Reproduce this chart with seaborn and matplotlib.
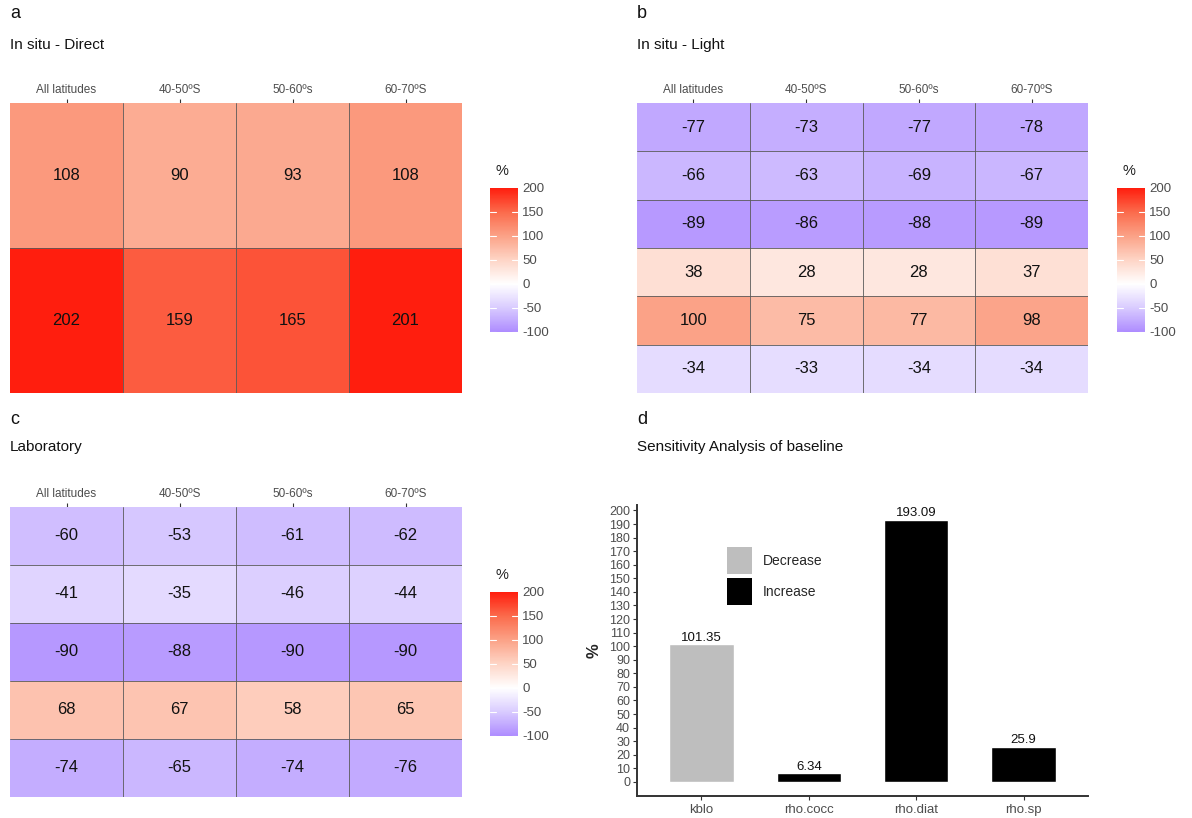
import numpy as np
import pandas as pd
import matplotlib
matplotlib.use("Agg")
import matplotlib.pyplot as plt
import seaborn as sns
from matplotlib.colors import LinearSegmentedColormap
from matplotlib.patches import Patch

sns.set_theme(style="white")
plt.rcParams['font.family'] = ['Liberation Sans', 'DejaVu Sans']
plt.rcParams['axes.unicode_minus'] = False

# ---------------- data ----------------
lat_labels = ['All latitudes', '40-50ºS', '50-60ºs', '60-70ºS']

direct_vals = [[108, 90, 93, 108],
               [202, 159, 165, 201]]

light_vals = [[-77, -73, -77, -78],
              [-66, -63, -69, -67],
              [-89, -86, -88, -89],
              [38, 28, 28, 37],
              [100, 75, 77, 98],
              [-34, -33, -34, -34]]

lab_vals = [[-60, -53, -61, -62],
            [-41, -35, -46, -44],
            [-90, -88, -90, -90],
            [68, 67, 58, 65],
            [-74, -65, -74, -76]]

sens_params = ['kblo', 'rho.cocc', 'rho.diat', 'rho.sp']
sens_values = [101.35, 6.34, 193.09, 25.9]
sens_direction = ['Decrease', 'Increase', 'Increase', 'Increase']
sens_labels = ['101.35', '6.34', '193.09', '25.9']

cbar_ticks = [-100, -50, 0, 50, 100, 150, 200]

# ---------------- style ----------------
W, H = 1192, 818
fig = plt.figure(figsize=(W / 100, H / 100), dpi=100)

def box(l, t, r, b):
    return [l / W, 1 - b / H, (r - l) / W, (b - t) / H]

vmin, vmax = -100, 200
stops = [(-100, '#AE8CFF'), (-50, '#D9CBFF'), (0, '#FFFFFF'),
         (50, '#FED5C6'), (100, '#FBA287'), (150, '#FB6B4C'), (200, '#FF1E0E')]
cmap = LinearSegmentedColormap.from_list(
    'g2', [((v - vmin) / (vmax - vmin), c) for v, c in stops])

grey_txt = '#4D4D4D'

def heat(vals, rect, cbar_rect):
    ax = fig.add_axes(box(*rect))
    cax = fig.add_axes(box(*cbar_rect))
    df = pd.DataFrame(vals, columns=lat_labels)
    sns.heatmap(df, ax=ax, cmap=cmap, vmin=vmin, vmax=vmax, annot=True, fmt='d',
                annot_kws={'fontsize': 12, 'color': '#111111'},
                linewidths=0, cbar_ax=cax, cbar_kws={'ticks': cbar_ticks})
    cb = ax.collections[0].colorbar
    cb.outline.set_visible(False)
    nr, nc = df.shape
    for i in range(1, nr):
        ax.axhline(i, color='#5a5a5a', lw=0.6)
    for j in range(1, nc):
        ax.axvline(j, color='#5a5a5a', lw=0.6)
    ax.xaxis.tick_top()
    ax.set_xticklabels(lat_labels, rotation=0, fontsize=8.5, color=grey_txt)
    ax.set_yticks([])
    ax.set_xlabel('')
    ax.set_ylabel('')
    ax.tick_params(axis='x', top=True, bottom=False, length=3, width=0.8,
                   color='#333333', pad=2)
    for s in ax.spines.values():
        s.set_visible(False)
    cax.tick_params(labelsize=9.5, labelcolor=grey_txt, length=0, pad=3)
    for t in cbar_ticks[:-1]:
        cax.plot([0, 0.2], [t, t], color='white', lw=0.8, transform=cax.get_yaxis_transform())
        cax.plot([0.8, 1.0], [t, t], color='white', lw=0.8, transform=cax.get_yaxis_transform())
    cax.text(0.2, 1.07, '%', transform=cax.transAxes, fontsize=10.5, color='#222222',
             ha='left', va='bottom')
    for s in cax.spines.values():
        s.set_visible(False)
    return ax

heat(direct_vals, (10, 103, 462, 393), (490, 188, 518, 332))
heat(light_vals, (637, 103, 1088, 393), (1117, 188, 1145, 332))
heat(lab_vals, (10, 507, 462, 797), (490, 592, 518, 736))

# panel letters / titles
def title(x, y1, y2, letter, text):
    fig.text(x / W, 1 - y1 / H, letter, fontsize=13, ha='left', va='center', color='#111111')
    fig.text(x / W, 1 - y2 / H, text, fontsize=11, ha='left', va='center', color='#111111')

title(10, 13, 45, 'a', 'In situ - Direct')
title(637, 13, 45, 'b', 'In situ - Light')
title(10, 419, 447, 'c', 'Laboratory')
title(637, 419, 447, 'd', 'Sensitivity Analysis of baseline')

# ---------------- panel d ----------------
axd = fig.add_axes(box(637, 505, 1088, 796))
sdf = pd.DataFrame({'param': sens_params, 'value': sens_values, 'dir': sens_direction})
pal = {'Decrease': '#BEBEBE', 'Increase': '#000000'}
sns.barplot(data=sdf, x='param', y='value', hue='dir', palette=pal, dodge=False,
            width=0.6, ax=axd, legend=False, saturation=1)
axd.set_xlim(-0.6, 3.6)
axd.set_ylim(-10.4, 204)
axd.set_yticks(np.arange(0, 201, 10))
axd.tick_params(axis='y', labelsize=9, labelcolor=grey_txt, left=True, length=3,
                width=0.8, color='#333333', pad=2)
axd.tick_params(axis='x', labelsize=9.5, labelcolor=grey_txt, bottom=True, length=3,
                width=0.8, color='#333333', pad=3)
for i, (v, lab) in enumerate(zip(sens_values, sens_labels)):
    axd.text(i, v + 0.3, lab, ha='center', va='bottom', fontsize=9.5, color='#111111')
axd.set_xlabel('')
axd.set_ylabel('%', fontsize=12, fontweight='bold', labelpad=5)
for s in ['top', 'right']:
    axd.spines[s].set_visible(False)
for s in ['left', 'bottom']:
    axd.spines[s].set_color('#333333')
    axd.spines[s].set_linewidth(1.4)

handles = [Patch(facecolor=pal['Decrease'], edgecolor='none'),
           Patch(facecolor=pal['Increase'], edgecolor='none')]
fig.legend(handles, ['Decrease', 'Increase'], loc='upper left',
           bbox_to_anchor=(727 / W, 1 - 547 / H), frameon=False, fontsize=10,
           handlelength=1.8, handleheight=2.6, labelspacing=0.3, borderpad=0,
           borderaxespad=0, handletextpad=0.8)

fig.savefig('out.png', dpi=100, facecolor='white')
